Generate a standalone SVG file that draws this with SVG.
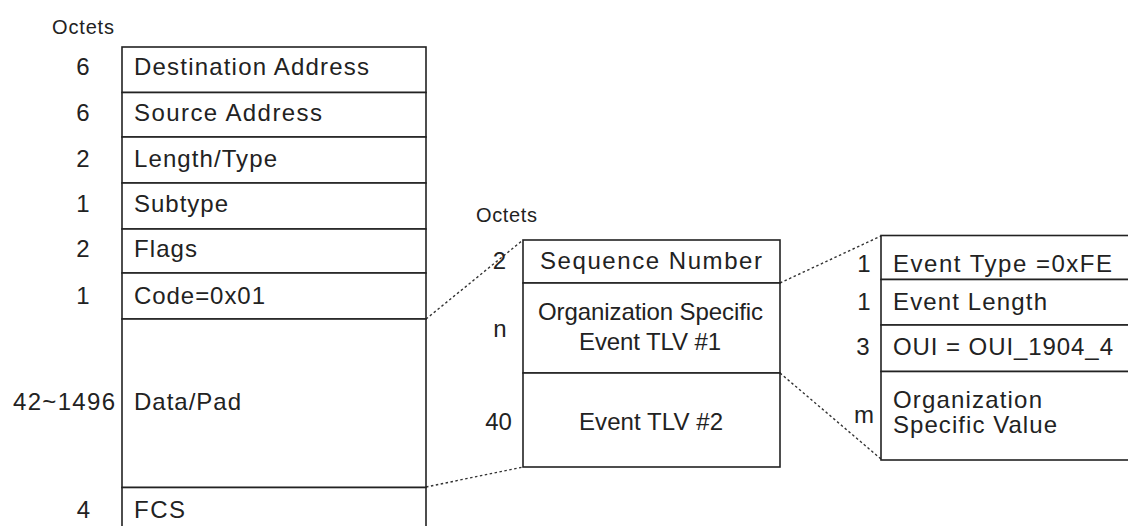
<svg xmlns="http://www.w3.org/2000/svg" width="1128" height="526" viewBox="0 0 1128 526">
<style>
  .box{fill:#fff;stroke:#222;stroke-width:1.6}
  .t{font-family:"Liberation Sans",Arial,sans-serif;font-size:24px;fill:#222}
  .s{font-family:"Liberation Sans",Arial,sans-serif;font-size:20px;fill:#222}
  .m{text-anchor:middle}
  .dot{fill:none;stroke:#333;stroke-width:1.4;stroke-dasharray:2.5 2.5}
</style>
<rect width="1128" height="526" fill="#fff"/>

<g id="connectors">
  <path class="dot" d="M426,319 L523,240"/>
  <path class="dot" d="M426,487 L523,467"/>
  <path class="dot" d="M780,283 L881,236"/>
  <path class="dot" d="M780,373 L881,459"/>
</g>

<g id="frame-left">
  <text class="s" x="52" y="34" textLength="62" lengthAdjust="spacing">Octets</text>
  <g id="f-dest"><rect class="box" x="122" y="47" width="304" height="45.5"/>
    <text class="t m" x="83" y="75">6</text>
    <text class="t" x="134" y="75" textLength="235" lengthAdjust="spacing">Destination Address</text></g>
  <g id="f-src"><rect class="box" x="122" y="92.5" width="304" height="44.5"/>
    <text class="t m" x="83" y="120.5">6</text>
    <text class="t" x="134" y="120.5" textLength="188" lengthAdjust="spacing">Source Address</text></g>
  <g id="f-len"><rect class="box" x="122" y="137" width="304" height="46"/>
    <text class="t m" x="83" y="166.5">2</text>
    <text class="t" x="134" y="166.5" textLength="143" lengthAdjust="spacing">Length/Type</text></g>
  <g id="f-sub"><rect class="box" x="122" y="183" width="304" height="46"/>
    <text class="t m" x="83" y="212">1</text>
    <text class="t" x="134" y="212" textLength="94" lengthAdjust="spacing">Subtype</text></g>
  <g id="f-flags"><rect class="box" x="122" y="229" width="304" height="44"/>
    <text class="t m" x="83" y="257">2</text>
    <text class="t" x="134" y="257" textLength="63" lengthAdjust="spacing">Flags</text></g>
  <g id="f-code"><rect class="box" x="122" y="273" width="304" height="46"/>
    <text class="t m" x="83" y="304">1</text>
    <text class="t" x="134" y="304" textLength="131" lengthAdjust="spacing">Code=0x01</text></g>
  <g id="f-data"><rect class="box" x="122" y="319" width="304" height="168.5"/>
    <text class="t" x="13" y="410" textLength="102" lengthAdjust="spacing">42~1496</text>
    <text class="t" x="134" y="410" textLength="107" lengthAdjust="spacing">Data/Pad</text></g>
  <g id="f-fcs"><rect class="box" x="122" y="487.5" width="304" height="60"/>
    <text class="t m" x="83.5" y="518">4</text>
    <text class="t" x="134" y="518" textLength="51" lengthAdjust="spacing">FCS</text></g>
</g>

<g id="frame-middle">
  <text class="s" x="476" y="222" textLength="61" lengthAdjust="spacing">Octets</text>
  <g id="m-seq"><rect class="box" x="523" y="240" width="257" height="43"/>
    <text class="t m" x="499.5" y="268.5">2</text>
    <text class="t m" x="651" y="268.5" textLength="222" lengthAdjust="spacing">Sequence Number</text></g>
  <g id="m-tlv1"><rect class="box" x="523" y="283" width="257" height="90"/>
    <text class="t m" x="500" y="337">n</text>
    <text class="t m" x="650.5" y="320" textLength="225" lengthAdjust="spacing">Organization Specific</text>
    <text class="t m" x="650" y="350" textLength="142" lengthAdjust="spacing">Event TLV #1</text></g>
  <g id="m-tlv2"><rect class="box" x="523" y="373" width="257" height="94"/>
    <text class="t m" x="498.5" y="430">40</text>
    <text class="t m" x="651" y="430" textLength="144" lengthAdjust="spacing">Event TLV #2</text></g>
</g>

<g id="frame-right">
  <g id="r-type"><rect class="box" x="881" y="235.5" width="260" height="44"/>
    <text class="t m" x="864" y="271.5">1</text>
    <text class="t" x="893" y="271.5" textLength="219" lengthAdjust="spacing">Event Type =0xFE</text></g>
  <g id="r-len"><rect class="box" x="881" y="279.5" width="260" height="45.5"/>
    <text class="t m" x="864" y="310">1</text>
    <text class="t" x="893" y="310" textLength="154" lengthAdjust="spacing">Event Length</text></g>
  <g id="r-oui"><rect class="box" x="881" y="325" width="260" height="46.5"/>
    <text class="t m" x="863" y="355">3</text>
    <text class="t" x="893" y="355" textLength="220" lengthAdjust="spacing">OUI = OUI_1904_4</text></g>
  <g id="r-val"><rect class="box" x="881" y="371.5" width="260" height="88.5"/>
    <text class="t m" x="864" y="423">m</text>
    <text class="t" x="893" y="408" textLength="149" lengthAdjust="spacing">Organization</text>
    <text class="t" x="893" y="433" textLength="164" lengthAdjust="spacing">Specific Value</text></g>
</g>
</svg>
